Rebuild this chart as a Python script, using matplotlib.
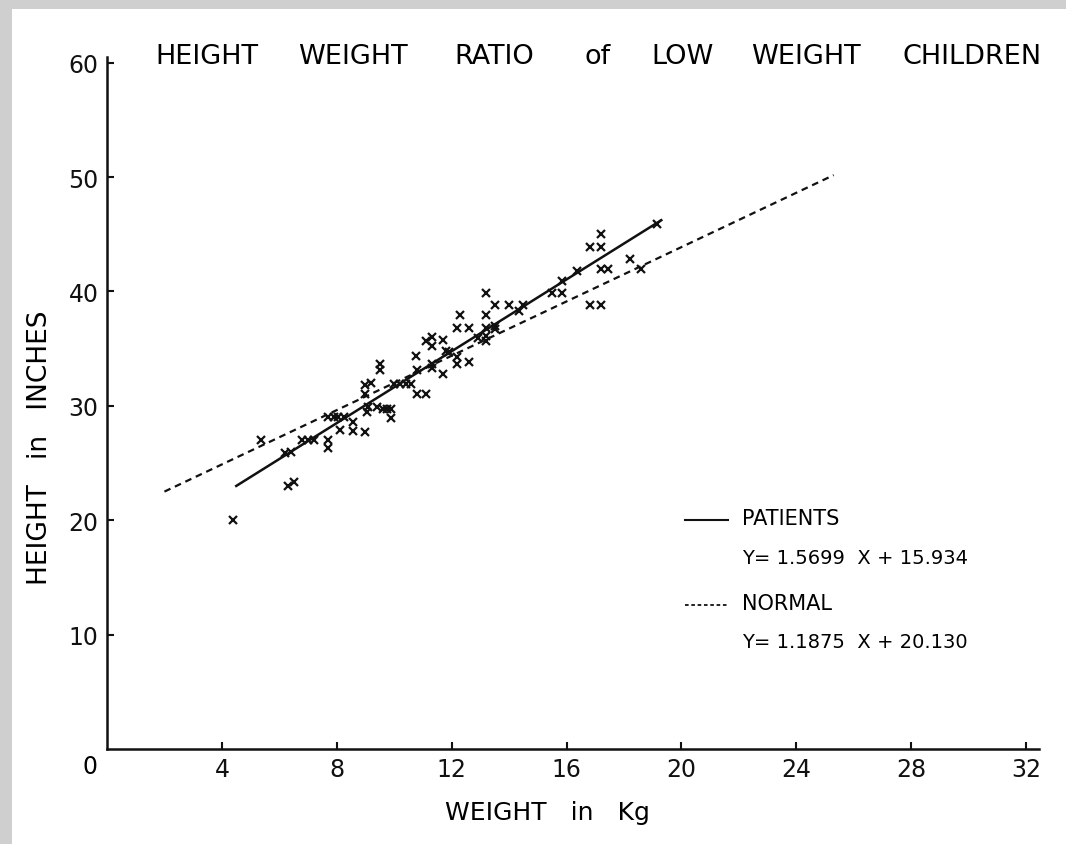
import matplotlib
matplotlib.use("Agg")
import matplotlib.pyplot as plt
from matplotlib.patches import Rectangle

# ---- data (weight in kg, height in inches) ----
weight = [4.4, 6.3, 6.5, 6.2, 6.4, 5.35, 6.8, 7.0, 7.2, 7.7, 7.7,
          7.7, 7.9, 8.05, 8.25, 8.1, 8.55, 8.55, 9.0, 9.0, 9.2, 9.0,
          9.05, 9.1, 9.4, 9.6, 9.75, 9.9, 9.9, 10.0, 10.2, 10.4, 10.6,
          10.8, 11.1, 9.5, 9.5, 10.8, 10.75, 11.3, 11.3, 11.7, 11.1, 11.3,
          11.7, 11.3, 11.8, 11.9, 12.2, 12.2, 12.6, 12.3, 12.2, 12.6, 12.9,
          13.2, 13.2, 13.5, 13.2, 13.5, 13.2, 13.2, 13.5, 14.0, 14.35, 14.5,
          15.5, 15.85, 15.85, 16.35, 16.8, 17.2, 17.2, 17.2, 17.45, 16.8,
          17.2, 18.2, 18.6, 19.15]
height = [20.0, 23.0, 23.3, 25.9, 26.0, 27.0, 27.0, 27.0, 27.0, 27.0, 26.3,
          29.0, 29.0, 29.0, 29.0, 27.9, 28.6, 27.8, 27.7, 31.8, 32.0, 31.0,
          29.5, 29.9, 29.9, 29.7, 29.7, 29.7, 28.9, 31.9, 31.9, 31.9, 31.9,
          31.0, 31.0, 33.7, 33.1, 33.1, 34.4, 33.7, 33.3, 32.8, 35.7, 36.0,
          35.8, 35.2, 34.8, 34.7, 34.3, 33.7, 33.8, 37.9, 36.8, 36.8, 35.9,
          35.7, 36.1, 36.7, 36.8, 37.0, 37.9, 39.9, 38.8, 38.8, 38.3, 38.8,
          39.9, 39.9, 40.9, 41.8, 43.9, 43.9, 45.0, 42.0, 42.0, 38.8,
          38.8, 42.8, 42.0, 45.9]

# regression lines as printed on the chart
patients_slope, patients_icpt = 1.5699, 15.934
normal_slope, normal_icpt = 1.1875, 20.130
patients_range = [4.5, 19.3]
normal_range = [2.0, 25.3]

x_ticks = [4, 8, 12, 16, 20, 24, 28, 32]
y_ticks = [10, 20, 30, 40, 50, 60]

title_words = ["HEIGHT", "WEIGHT", "RATIO", "of", "LOW", "WEIGHT", "CHILDREN"]
title_x_px = [155, 298, 454, 585, 651, 751, 903]

W, H = 1066, 845
fig = plt.figure(figsize=(W / 100, H / 100), dpi=100)
fig.patch.set_facecolor("#cfcfcf")
fig.patches.append(Rectangle((12 / W, 0), 1 - 12 / W, 1 - 10 / H,
                             transform=fig.transFigure, facecolor="white",
                             edgecolor="none", zorder=-10))

font = "DejaVu Sans"
ax = fig.add_axes([107 / W, (H - 750) / H, (1039 - 107) / W, (750 - 58) / H])
ax.set_zorder(2)
ax.set_facecolor("none")
ax.set_xlim(0, 32.45)
ax.set_ylim(0, 60.5)
for s in ("top", "right"):
    ax.spines[s].set_visible(False)
for s in ("left", "bottom"):
    ax.spines[s].set_linewidth(1.8)
    ax.spines[s].set_color("#111111")

ax.set_xticks(x_ticks)
ax.set_xticklabels([str(v) for v in x_ticks], fontsize=17, family=font)
ax.set_yticks(y_ticks)
ax.set_yticklabels([str(v) for v in y_ticks], fontsize=17, family=font)
ax.tick_params(axis="x", direction="in", length=5, width=1.5, pad=6, colors="#111111")
ax.tick_params(axis="y", direction="in", length=5, width=1.5, pad=6, colors="#111111")
fig.text(90 / W, 1 - 767 / H, "0", fontsize=17, family=font, ha="center", va="center")

# scatter of patients
ax.plot(weight, height, linestyle="none", marker="x", markersize=5.2,
        markeredgewidth=1.6, color="#111111")

# regression lines
px = patients_range
ax.plot(px, [patients_slope * v + patients_icpt for v in px], color="#111111", lw=1.8)
nx = normal_range
ax.plot(nx, [normal_slope * v + normal_icpt for v in nx], color="#111111", lw=1.6,
        linestyle=(0, (3, 2.2)))

# title
for word, xp in zip(title_words, title_x_px):
    fig.text(xp / W, 1 - 57 / H, word, fontsize=19.5, family=font, ha="left", va="center")

fig.text(547 / W, 1 - 813 / H, "WEIGHT   in   Kg", fontsize=18, family=font,
         ha="center", va="center")
fig.text(40 / W, 1 - 448 / H, "HEIGHT   in   INCHES", fontsize=19, family=font,
         ha="center", va="center", rotation=90)

# legend block
lx0, lx1, tx = 685, 728, 742
fig.add_artist(plt.Line2D([lx0 / W, lx1 / W], [1 - 521 / H, 1 - 521 / H],
                          color="#111111", lw=1.5))
fig.text(tx / W, 1 - 519 / H, "PATIENTS", fontsize=15, family=font, ha="left", va="center")
fig.text(tx / W, 1 - 559 / H, "Y= 1.5699  X + 15.934", fontsize=14, family=font,
         ha="left", va="center")
fig.add_artist(plt.Line2D([lx0 / W, lx1 / W], [1 - 606 / H, 1 - 606 / H],
                          color="#111111", lw=1.3, linestyle=(0, (2, 1.5))))
fig.text(tx / W, 1 - 604 / H, "NORMAL", fontsize=15, family=font, ha="left", va="center")
fig.text(tx / W, 1 - 643 / H, "Y= 1.1875  X + 20.130", fontsize=14, family=font,
         ha="left", va="center")

fig.savefig("out.png", dpi=100, facecolor=fig.get_facecolor())
